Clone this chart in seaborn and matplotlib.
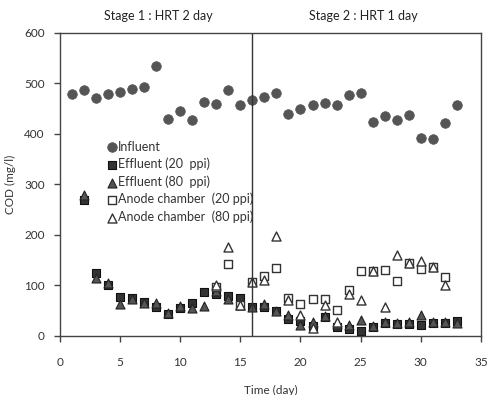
import numpy as np
import pandas as pd
import matplotlib
matplotlib.use("Agg")
import matplotlib.pyplot as plt
import seaborn as sns

# data
influent_day = list(range(1, 34))
influent_cod = [479, 488, 472, 479, 484, 490, 493, 534, 429, 446, 427, 464, 459, 488, 457, 468,
                474, 482, 439, 450, 457, 462, 457, 477, 482, 423, 435, 428, 438, 392, 391, 421, 457]

effluent_day = list(range(2, 34))
effluent_20 = [270, 125, 100, 78, 76, 68, 58, 43, 55, 65, 88, 83, 80, 75, 58, 58,
               50, 33, 30, 20, 38, 18, 13, 10, 18, 25, 24, 24, 22, 25, 25, 30]
effluent_80 = [280, 115, 105, 63, 73, 66, 66, 46, 60, 55, 60, 90, 74, 62, 58, 64,
               50, 41, 22, 28, 40, 23, 22, 32, 20, 27, 26, 27, 41, 28, 27, 25]

anode_day = list(range(13, 33))
anode_20 = [97, 143, 62, 107, 118, 135, 76, 63, 74, 73, 51, 91, 129, 129, 130, 108, 145, 133, 137, 116]
anode_80 = [100, 177, 62, 107, 110, 198, 71, 41, 15, 61, 28, 83, 72, 129, 57, 160, 145, 148, 137, 101]

stage_split = 16
stage_labels = ["Stage 1 : HRT 2 day", "Stage 2 : HRT 1 day"]

sns.set_style("white")
plt.rcParams["font.family"] = ["Lato", "DejaVu Sans"]

fig = plt.figure(figsize=(4.9, 3.95), dpi=100)
ax = fig.add_axes([0.1224, 0.1494, 0.8590, 0.7671])

sns.scatterplot(x=influent_day, y=influent_cod, ax=ax, marker="o", s=48,
                color="#555555", edgecolor="#555555", linewidth=0.5, label="Influent")
sns.scatterplot(x=effluent_day, y=effluent_20, ax=ax, marker="s", s=40,
                color="#333333", edgecolor="#111111", linewidth=0.8, label="Effluent (20  ppi)")
sns.scatterplot(x=effluent_day, y=effluent_80, ax=ax, marker="^", s=42,
                color="#555555", edgecolor="#222222", linewidth=0.8, label="Effluent (80  ppi)")
sns.scatterplot(x=anode_day, y=anode_20, ax=ax, marker="s", s=40,
                color="white", edgecolor="#333333", linewidth=1.0, label="Anode chamber  (20 ppi)")
sns.scatterplot(x=anode_day, y=anode_80, ax=ax, marker="^", s=42,
                color="white", edgecolor="#333333", linewidth=1.0, label="Anode chamber  (80 ppi)")

ax.axvline(stage_split, color="#333333", linewidth=1.0)

ax.set_xlim(0, 35)
ax.set_ylim(0, 600)
ax.set_xticks(range(0, 36, 5))
ax.set_yticks(range(0, 601, 100))
ax.tick_params(direction="out", length=4, width=1, color="#444444",
               labelsize=8.5, labelcolor="#333333", bottom=True, left=True)
ax.tick_params(axis="x", pad=11)
ax.tick_params(axis="y", pad=7)
for sp in ax.spines.values():
    sp.set_color("#444444")
    sp.set_linewidth(1.0)

ax.set_xlabel("Time (day)", fontsize=8.5, color="#333333", labelpad=12)
ax.set_ylabel("COD (mg/l)", fontsize=8.5, color="#333333", labelpad=6)

ax.text(8.2, 1.035, stage_labels[0], transform=ax.get_xaxis_transform(),
        ha="center", va="bottom", fontsize=9, color="#222222")
ax.text(25.2, 1.035, stage_labels[1], transform=ax.get_xaxis_transform(),
        ha="center", va="bottom", fontsize=9, color="#222222")

ax.legend(loc="upper left", bbox_to_anchor=(0.1, 0.665), frameon=False, fontsize=9,
          handlelength=0.6, handletextpad=0.2, labelspacing=0.4, borderpad=0,
          labelcolor="#333333")

fig.savefig("out.png", dpi=100)
